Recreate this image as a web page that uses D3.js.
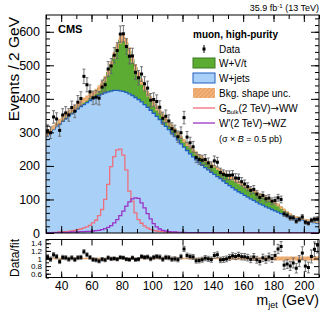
<!DOCTYPE html>
<meta charset="utf-8">
<head>
<style>
  body { margin: 0; background: #fff; font-family: "Liberation Sans", Arial, Helvetica, sans-serif; }
  svg { display: block; }
</style>
<script src="https://d3js.org/d3.v7.min.js"></script>
</head>
<body>
<svg id="chart"></svg>
<script>
// bins: 2 GeV wide, 30 -> 210 GeV (90 bins)
const binLow = 30, binWidth = 2

const wjets = [292,300,309,317,325,333,341,349,356,363,
  370,377,383,389,395,400,405,410,414,418,
  421,423,425,425,424,422,419,415,410,404,
  398,391,383,375,366,357,348,338,328,318,
  308,298,288,277,266,256,246,236,227,218,
  210,202,195,188,181,175,168,162,155,148,
  141,135,129,123,118,112,107,102,97,92,
  87,83,78,74,70,66,62,58,55,52,
  49,46,43,41,39,37,35,33,31,29]

const wvt = [4,5,6,7,8,9,10,10,11,11,
  12,12,13,13,14,15,17,22,30,42,
  58,80,105,130,152,160,148,128,108,90,
  74,60,49,40,34,29,25,23,21,20,
  19,19,19,19,19,19,19,20,20,21,
  21,22,22,23,23,24,24,25,25,26,
  26,27,27,28,28,28,28,28,28,28,
  28,27,27,26,25,24,22,18,14,10,
  7,5,4,3,3,3,3,3,2,2]

const dataCounts = [305,299,346,340,306,352,358,352,374,363,
  390,401,467,442,421,403,405,402,435,442,
  489,498,530,544,593,594,556,527,528,479,
  463,474,445,432,396,398,392,375,342,348,
  334,311,304,287,299,344,286,269,257,225,
  219,217,219,209,198,215,211,180,175,172,
  172,173,164,163,153,146,138,127,130,116,
  106,112,102,104,95,97,105,100,57,53,
  45,45,35,41,48,32,29,38,41,42]

const gbulk = [1,1,2,2,3,3,4,5,6,8,
  10,12,15,18,23,30,38,52,70,100,
  145,198,228,248,250,232,188,125,95,60,
  40,29,21,15,11,8,6,5,4,3,
  3,2,2,2,1,1,1,1,1,1,
  1,1,1,1,1,0,0,0,0,0,
  0,0,0,0,0,0,0,0,0,0,
  0,0,0,0,0,0,0,0,0,0,
  0,0,0,0,0,0,0,0,0,0]

const wprime = [1,1,1,1,2,2,2,2,3,3,
  3,4,4,5,5,6,7,8,10,13,
  17,22,30,40,52,65,80,93,102,105,
  103,90,75,58,42,28,18,12,8,6,
  4,3,3,2,2,2,1,1,1,1,
  1,1,1,1,1,0,0,0,0,0,
  0,0,0,0,0,0,0,0,0,0,
  0,0,0,0,0,0,0,0,0,0,
  0,0,0,0,0,0,0,0,0,0]

// relative background shape uncertainty, by mass range
const uncEdges = [30, 150, 180, 210]
const uncRel = [0.02, 0.035, 0.055]

const xTicks = [40, 60, 80, 100, 120, 140, 160, 180, 200]
const yTicks = [0, 100, 200, 300, 400, 500, 600]
const ratioTicks = [0.6, 0.8, 1, 1.2, 1.4]

const width = 332, height = 316
const left = 46, right = 319
const mainTop = 15, mainBottom = 233
const ratioTop = 239.5, ratioBottom = 277.5

const svg = d3.select("#chart").attr("width", width).attr("height", height)

const x = d3.scaleLinear().domain([30, 210]).range([left, right])
const y = d3.scaleLinear().domain([0, 650]).range([mainBottom, mainTop])
const yr = d3.scaleLinear().domain([0.5, 1.5]).range([ratioBottom, ratioTop])

let bins = wjets.map((w, i) => {
  let lo = binLow + i * binWidth
  let total = w + wvt[i]
  let c = lo + binWidth / 2
  let k = uncEdges.findIndex((e, j) => j < uncRel.length && c >= e && c < uncEdges[j + 1])
  return { lo, hi: lo + binWidth, c, wj: w, total, data: dataCounts[i], g: gbulk[i], wp: wprime[i], unc: uncRel[k] }
})

// hatch pattern for the shape uncertainty
let defs = svg.append("defs")
let pat = defs.append("pattern").attr("id", "hatch").attr("patternUnits", "userSpaceOnUse")
  .attr("width", 3).attr("height", 3).attr("patternTransform", "rotate(45)")
pat.append("rect").attr("width", 3).attr("height", 3).attr("fill", "#f2b47c")
pat.append("line").attr("x1", 0).attr("y1", 0).attr("x2", 0).attr("y2", 3)
  .attr("stroke", "#d98b45").attr("stroke-width", 1.2)
defs.append("clipPath").attr("id", "clipMain").append("rect")
  .attr("x", left).attr("y", mainTop).attr("width", right - left).attr("height", mainBottom - mainTop)

// step helpers
function stepPts(acc) {
  let pts = []
  bins.forEach(b => { pts.push([b.lo, acc(b)]); pts.push([b.hi, acc(b)]) })
  return pts
}
let stepArea = ys => d3.area().x(d => x(d[0])).y0(d => ys(d[1])).y1(d => ys(d[2]))
let linePath = d3.line().x(d => x(d[0])).y(d => y(d[1]))

function stepBand(accLo, accHi) {
  let pts = []
  bins.forEach(b => { pts.push([b.lo, accLo(b), accHi(b)]); pts.push([b.hi, accLo(b), accHi(b)]) })
  return pts
}

let main = svg.append("g").attr("clip-path", "url(#clipMain)")

// W+jets
main.append("path").datum(stepBand(b => 0, b => b.wj))
  .attr("d", stepArea(y)).attr("fill", "#a9d1f7")
// W+V/t
main.append("path").datum(stepBand(b => b.wj, b => b.total))
  .attr("d", stepArea(y)).attr("fill", "#5cab32")
main.append("path").datum(stepPts(b => b.wj)).attr("d", linePath)
  .attr("fill", "none").attr("stroke", "#1f5fc0").attr("stroke-width", 1.3)
main.append("path").datum(stepPts(b => b.total)).attr("d", linePath)
  .attr("fill", "none").attr("stroke", "#3b7d22").attr("stroke-width", 1)
// shape uncertainty
main.append("path").datum(stepBand(b => b.total * (1 - b.unc), b => b.total * (1 + b.unc)))
  .attr("d", stepArea(y)).attr("fill", "url(#hatch)")

// signals
main.append("path").datum(stepPts(b => b.g)).attr("d", linePath)
  .attr("fill", "none").attr("stroke", "#ee6f7c").attr("stroke-width", 1.3)
main.append("path").datum(stepPts(b => b.wp)).attr("d", linePath)
  .attr("fill", "none").attr("stroke", "#9a32c8").attr("stroke-width", 1.3)

// data points
function drawPoints(g, val, err, ys) {
  let pts = g.selectAll(".pt").data(bins).enter().append("g")
  pts.append("line").attr("x1", d => x(d.c)).attr("x2", d => x(d.c))
    .attr("y1", d => ys(val(d) - err(d))).attr("y2", d => ys(val(d) + err(d)))
    .attr("stroke", "#666").attr("stroke-width", 0.9)
  ;[1, -1].forEach(s => {
    pts.append("line").attr("x1", d => x(d.c) - 1.5).attr("x2", d => x(d.c) + 1.5)
      .attr("y1", d => ys(val(d) + s * err(d))).attr("y2", d => ys(val(d) + s * err(d)))
      .attr("stroke", "#666").attr("stroke-width", 0.9)
  })
  pts.append("rect").attr("x", d => x(d.c) - 1.5).attr("y", d => ys(val(d)) - 1.5)
    .attr("width", 3).attr("height", 3).attr("fill", "#000")
}
drawPoints(main, d => d.data, d => Math.sqrt(d.data), y)

// ratio panel
defs.append("clipPath").attr("id", "clipRatio").append("rect")
  .attr("x", left).attr("y", ratioTop).attr("width", right - left).attr("height", ratioBottom - ratioTop)
let ratio = svg.append("g").attr("clip-path", "url(#clipRatio)")
ratio.append("path").datum(stepBand(b => 1 - b.unc, b => 1 + b.unc))
  .attr("d", stepArea(yr)).attr("fill", "url(#hatch)")
drawPoints(ratio, d => d.data / d.total, d => Math.sqrt(d.data) / d.total, yr)

// frames and axes (ROOT-style inward ticks on all sides)
function frame(top, bottom) {
  svg.append("rect").attr("x", left).attr("y", top).attr("width", right - left).attr("height", bottom - top)
    .attr("fill", "none").attr("stroke", "#000").attr("stroke-width", 1)
}
frame(mainTop, mainBottom)
frame(ratioTop, ratioBottom)

function styleAxis(g, fs) {
  g.select(".domain").remove()
  g.selectAll("line").attr("stroke", "#000")
  g.selectAll("text").attr("font-size", fs).attr("fill", "#000")
    .attr("font-family", "'Liberation Sans', Arial, sans-serif")
}

let yMinor = d3.range(0, 651, 20)
let xMinor = d3.range(30, 211, 10)

// main y axis
svg.append("g").attr("transform", `translate(${left},0)`)
  .call(d3.axisLeft(y).tickValues(yTicks).tickSize(-8).tickPadding(6).tickFormat(d3.format("d")))
  .call(g => styleAxis(g, 12.5))
svg.append("g").attr("transform", `translate(${left},0)`)
  .call(d3.axisLeft(y).tickValues(yMinor).tickSize(-4).tickFormat(""))
  .call(g => styleAxis(g, 12))
svg.append("g").attr("transform", `translate(${right},0)`)
  .call(d3.axisRight(y).tickValues(yTicks).tickSize(-8).tickFormat(""))
  .call(g => styleAxis(g, 12))
svg.append("g").attr("transform", `translate(${right},0)`)
  .call(d3.axisRight(y).tickValues(yMinor).tickSize(-4).tickFormat(""))
  .call(g => styleAxis(g, 12))

// main x axes (no labels)
;[[mainBottom, d3.axisBottom], [mainTop, d3.axisTop]].forEach(([pos, ax]) => {
  svg.append("g").attr("transform", `translate(0,${pos})`)
    .call(ax(x).tickValues(xTicks).tickSize(-7).tickFormat(""))
    .call(g => styleAxis(g, 12))
  svg.append("g").attr("transform", `translate(0,${pos})`)
    .call(ax(x).tickValues(xMinor).tickSize(-4).tickFormat(""))
    .call(g => styleAxis(g, 12))
})

// ratio axes
svg.append("g").attr("transform", `translate(${left},0)`)
  .call(d3.axisLeft(yr).tickValues(ratioTicks).tickSize(-5).tickPadding(4)
    .tickFormat(d => d === 1 ? "1" : d3.format(".1f")(d)))
  .call(g => styleAxis(g, 8))
svg.append("g").attr("transform", `translate(${left},0)`)
  .call(d3.axisLeft(yr).tickValues(d3.range(0.5, 1.51, 0.1)).tickSize(-3).tickFormat(""))
  .call(g => styleAxis(g, 8))
svg.append("g").attr("transform", `translate(${right},0)`)
  .call(d3.axisRight(yr).tickValues(ratioTicks).tickSize(-5).tickFormat(""))
  .call(g => styleAxis(g, 8))
svg.append("g").attr("transform", `translate(0,${ratioBottom})`)
  .call(d3.axisBottom(x).tickValues(xTicks).tickSize(-6).tickPadding(4).tickFormat(d3.format("d")))
  .call(g => styleAxis(g, 12))
svg.append("g").attr("transform", `translate(0,${ratioBottom})`)
  .call(d3.axisBottom(x).tickValues(xMinor).tickSize(-3).tickFormat(""))
  .call(g => styleAxis(g, 12))
svg.append("g").attr("transform", `translate(0,${ratioTop})`)
  .call(d3.axisTop(x).tickValues(xTicks).tickSize(-6).tickFormat(""))
  .call(g => styleAxis(g, 12))

// titles
svg.append("text").attr("transform", "translate(19,17) rotate(-90)").attr("text-anchor", "end")
  .attr("font-size", 15.5).text("Events / 2 GeV")
svg.append("text").attr("transform", "translate(19,258) rotate(-90)").attr("text-anchor", "middle")
  .attr("font-size", 12).text("Data/fit")
let xt = svg.append("text").attr("x", right).attr("y", 305).attr("text-anchor", "end").attr("font-size", 14)
xt.append("tspan").text("m")
xt.append("tspan").attr("font-size", 9).attr("dy", 3).text("jet")
xt.append("tspan").attr("dy", -3).text(" (GeV)")

let hd = svg.append("text").attr("x", right).attr("y", 11).attr("text-anchor", "end").attr("font-size", 9)
hd.append("tspan").text("35.9 fb")
hd.append("tspan").attr("font-size", 6).attr("dy", -3).text("-1")
hd.append("tspan").attr("dy", 3).text(" (13 TeV)")

svg.append("text").attr("x", 58).attr("y", 33).attr("font-size", 11).attr("font-weight", "bold").text("CMS")

// legend
let lg = svg.append("g").attr("font-size", 10)
lg.append("text").attr("x", 193).attr("y", 38).attr("font-weight", "bold").text("muon, high-purity")
let boxX = 193, boxW = 22, textX = 219
lg.append("line").attr("x1", boxX + 11).attr("x2", boxX + 11).attr("y1", 45).attr("y2", 53).attr("stroke", "#000")
lg.append("rect").attr("x", boxX + 9.5).attr("y", 47.5).attr("width", 3).attr("height", 3).attr("fill", "#000")
lg.append("text").attr("x", textX).attr("y", 53).text("Data")
lg.append("rect").attr("x", boxX).attr("y", 58).attr("width", boxW).attr("height", 10)
  .attr("fill", "#5cab32").attr("stroke", "#3b7d22")
lg.append("text").attr("x", textX).attr("y", 67).text("W+V/t")
lg.append("rect").attr("x", boxX).attr("y", 73).attr("width", boxW).attr("height", 10)
  .attr("fill", "#a9d1f7").attr("stroke", "#1f5fc0")
lg.append("text").attr("x", textX).attr("y", 82).text("W+jets")
lg.append("rect").attr("x", boxX).attr("y", 88).attr("width", boxW).attr("height", 10).attr("fill", "url(#hatch)")
lg.append("text").attr("x", textX).attr("y", 97).text("Bkg. shape unc.")
lg.append("line").attr("x1", boxX).attr("x2", boxX + boxW).attr("y1", 108).attr("y2", 108)
  .attr("stroke", "#ee6f7c").attr("stroke-width", 1.3)
let gt = lg.append("text").attr("x", textX).attr("y", 112)
gt.append("tspan").text("G")
gt.append("tspan").attr("font-size", 6).attr("dy", 2).text("Bulk")
gt.append("tspan").attr("dy", -2).text("(2 TeV)")
gt.append("tspan").attr("font-family", "'DejaVu Sans', sans-serif").text("\u2192")
gt.append("tspan").text("WW")
lg.append("line").attr("x1", boxX).attr("x2", boxX + boxW).attr("y1", 123).attr("y2", 123)
  .attr("stroke", "#9a32c8").attr("stroke-width", 1.3)
let wt = lg.append("text").attr("x", textX).attr("y", 127)
wt.append("tspan").text("W'(2 TeV)")
wt.append("tspan").attr("font-family", "'DejaVu Sans', sans-serif").text("\u2192")
wt.append("tspan").text("WZ")
let st = lg.append("text").attr("x", textX).attr("y", 142).attr("font-size", 9)
st.append("tspan").text("(\u03c3 \u00d7 ")
st.append("tspan").attr("font-style", "italic").text("B")
st.append("tspan").text(" = 0.5 pb)")
</script>
</body>
